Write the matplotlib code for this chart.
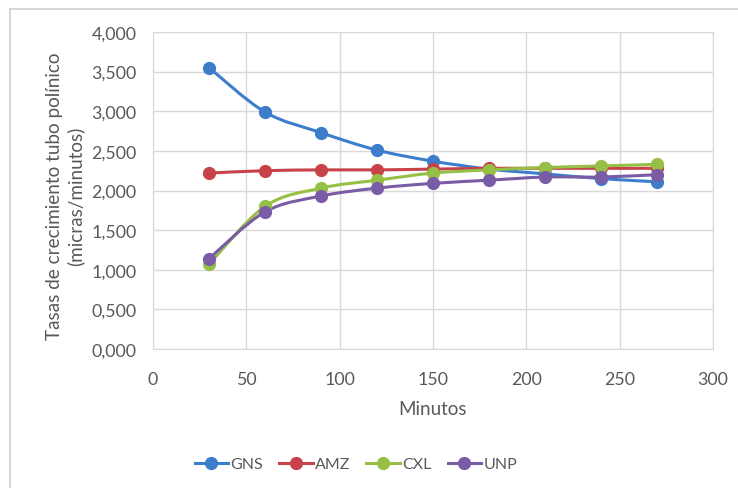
import numpy as np
import matplotlib.pyplot as plt
from matplotlib.path import Path
from matplotlib.patches import PathPatch
from matplotlib.lines import Line2D
from matplotlib.ticker import FuncFormatter

plt.rcParams['font.family'] = ['Lato', 'DejaVu Sans']

# Tiempo de medicion (minutos)
minutos = [30, 60, 90, 120, 150, 180, 210, 240, 270]

# Tasas de crecimiento por genotipo
gns = [3.55, 2.99, 2.73, 2.51, 2.37, 2.27, 2.21, 2.15, 2.11]
amz = [2.22, 2.25, 2.26, 2.26, 2.27, 2.28, 2.28, 2.28, 2.28]
cxl = [1.07, 1.80, 2.03, 2.13, 2.22, 2.26, 2.29, 2.31, 2.33]
unp = [1.14, 1.73, 1.93, 2.03, 2.09, 2.13, 2.17, 2.17, 2.20]

series = ['GNS', 'AMZ', 'CXL', 'UNP']
colores = ['#3C7DCC', '#C8424A', '#96C045', '#7A5CA6']
valores = [gns, amz, cxl, unp]

gris_texto = '#595959'
gris_rejilla = '#D9D9D9'


def curva_suave(x, y, tension=1 / 6):
    # curva tipo Excel: Catmull-Rom convertida a Bezier cubica
    x = np.asarray(x, float)
    y = np.asarray(y, float)
    verts = [(x[0], y[0])]
    codes = [Path.MOVETO]
    n = len(x)
    for i in range(n - 1):
        x0, y0 = (x[i - 1], y[i - 1]) if i > 0 else (x[i], y[i])
        x3, y3 = (x[i + 2], y[i + 2]) if i + 2 < n else (x[i + 1], y[i + 1])
        c1 = (x[i] + (x[i + 1] - x0) * tension, y[i] + (y[i + 1] - y0) * tension)
        c2 = (x[i + 1] - (x3 - x[i]) * tension, y[i + 1] - (y3 - y[i]) * tension)
        verts += [c1, c2, (x[i + 1], y[i + 1])]
        codes += [Path.CURVE4] * 3
    return Path(verts, codes)


W, H = 738, 489
fig = plt.figure(figsize=(W / 100, H / 100), dpi=100)
ax = fig.add_axes([153 / W, 1 - 350 / H, 560 / W, 317 / H])

for nombre, color, v in zip(series, colores, valores):
    ax.add_patch(PathPatch(curva_suave(minutos, v), facecolor='none',
                           edgecolor=color, lw=2.2, zorder=3))
    ax.plot(minutos, v, ls='none', marker='o', ms=8.5, color=color, zorder=4)

ax.set_xlim(0, 300)
ax.set_ylim(0, 4)
ax.set_xticks(range(0, 301, 50))
ax.set_yticks(np.arange(0, 4.01, 0.5))
ax.yaxis.set_major_formatter(FuncFormatter(lambda v, p: f'{v:.3f}'.replace('.', ',')))
ax.grid(True, color=gris_rejilla, lw=1)
ax.set_axisbelow(True)
for s in ax.spines.values():
    s.set_color(gris_rejilla)
ax.tick_params(length=0, labelsize=12.8, colors=gris_texto)
ax.tick_params(axis='y', pad=12)
ax.tick_params(axis='x', pad=16)

fig.text(433 / W, 1 - 410 / H, 'Minutos', fontsize=13.5, color=gris_texto,
         ha='center', va='center')
fig.text(65 / W, 1 - 196 / H, 'Tasas de crecimiento tubo polínico\n(micras/minutos)',
         fontsize=13.6, color=gris_texto, rotation=90, ha='center', va='center',
         multialignment='center', linespacing=1.25)

handles = [Line2D([], [], color=c, lw=2.2, marker='o', ms=8.5) for c in colores]
fig.legend(handles, series, loc='center', bbox_to_anchor=(356 / W, 1 - 465 / H), ncol=4,
           frameon=False, fontsize=11.5, labelcolor=gris_texto, handlelength=2.1,
           handletextpad=0.15, columnspacing=1.0)

# borde del area del grafico
fig.add_artist(Line2D([10 / W, 1], [1 - 10 / H] * 2, transform=fig.transFigure,
                      color='#D0D0D0', lw=1.2))
fig.add_artist(Line2D([10 / W] * 2, [0, 1 - 10 / H], transform=fig.transFigure,
                      color='#D0D0D0', lw=1.2))

fig.savefig('out.png', dpi=100)
